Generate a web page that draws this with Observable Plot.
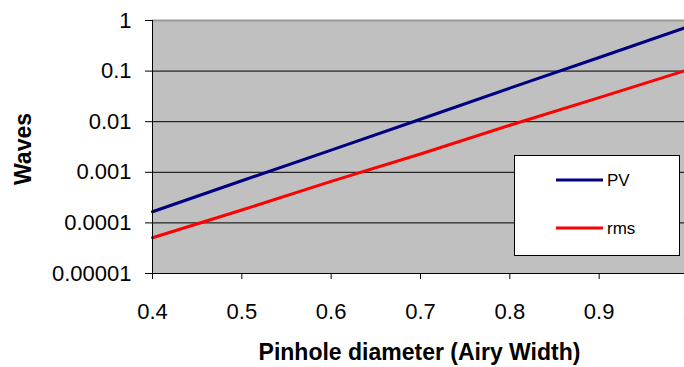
<!DOCTYPE html>
<html>
<head>
<meta charset="utf-8">
<script src="https://cdn.jsdelivr.net/npm/d3@7"></script>
<script src="https://cdn.jsdelivr.net/npm/@observablehq/plot@0.6"></script>
<style>
  html, body { margin: 0; padding: 0; background: #fff; overflow: hidden; }
  svg, svg text { font-family: "Liberation Sans", Arial, sans-serif !important; }
</style>
</head>
<body>
<div id="chart"></div>
<script>
// Data
const diameters = [0.4, 0.5, 0.6, 0.7, 0.8, 0.9, 1.0];
const pvValues  = [1.66e-4, 6.8e-4, 2.75e-3, 1.12e-2, 4.6e-2, 0.186, 0.76];
const rmsValues = [5.1e-5, 1.8e-4, 6.6e-4, 2.3e-3, 8.5e-3, 3.0e-2, 0.107];
const seriesNames = ["PV", "rms"];
const seriesColors = ["#000080", "#ff0000"];
const xTicks = [0.4, 0.5, 0.6, 0.7, 0.8, 0.9, 1.0];
const xTickLabels = ["0.4", "0.5", "0.6", "0.7", "0.8", "0.9", "1"];
const yTicks = [1e-5, 1e-4, 1e-3, 1e-2, 1e-1, 1];
const yTickLabels = ["0.00001", "0.0001", "0.001", "0.01", "0.1", "1"];
const xTitle = "Pinhole diameter (Airy Width)";
const yTitle = "Waves";

const rows = [];
diameters.forEach((d, i) => {
  rows.push({x: d, y: pvValues[i], s: seriesNames[0]});
  rows.push({x: d, y: rmsValues[i], s: seriesNames[1]});
});

const W = 684, H = 367;
const chart = Plot.plot({
  width: W,
  height: H,
  marginLeft: 152,
  marginTop: 20,
  marginBottom: 94,
  marginRight: 0,
  style: "font-family: 'Liberation Sans', Arial, sans-serif; background: #fff; color: #000;",
  x: {domain: [0.4, 1.0], range: [152, 688]},
  y: {type: "log", domain: [1e-5, 1]},
  color: {domain: seriesNames, range: seriesColors},
  marks: [
    Plot.frame({fill: "#c0c0c0", stroke: null}),
    Plot.ruleY(yTicks.slice(1, -1), {stroke: "#000", strokeWidth: 1}),
    Plot.ruleY([1], {stroke: "#999", strokeWidth: 2}),
    Plot.line(rows, {x: "x", y: "y", z: "s", stroke: "s", strokeWidth: 3}),
    Plot.ruleX([0.4], {stroke: "#000", strokeWidth: 1}),
    Plot.ruleY([1e-5], {stroke: "#000", strokeWidth: 1}),
    Plot.axisY({
      ticks: yTicks,
      tickFormat: d => yTickLabels[yTicks.indexOf(d)],
      tickSize: 7, tickPadding: 14, fontSize: 22, label: null, stroke: "#000"
    }),
    Plot.axisX({
      ticks: xTicks,
      tickFormat: d => xTickLabels[xTicks.indexOf(d)],
      tickSize: 6, tickPadding: 24, fontSize: 22, label: null, stroke: "#000"
    }),
    Plot.text([xTitle], {frameAnchor: "bottom", textAnchor: "middle", lineAnchor: "bottom", dx: 1, dy: 86, fontWeight: "bold", fontSize: 23, fill: "#000"}),
    Plot.text([yTitle], {frameAnchor: "left", textAnchor: "middle", lineAnchor: "middle", rotate: -90, dx: -129, dy: 2, fontWeight: "bold", fontSize: 23, fill: "#000"})
  ]
});
document.getElementById("chart").appendChild(chart);

// Legend (boxed, inside plot area)
const svg = d3.select(chart);
const lg = svg.append("g");
lg.append("rect").attr("x", 514.5).attr("y", 155.5).attr("width", 165).attr("height", 100)
  .attr("fill", "#fff").attr("stroke", "#000").attr("stroke-width", 1);
seriesNames.forEach((name, i) => {
  const yy = 180 + i * 48;
  lg.append("line").attr("x1", 556).attr("x2", 603).attr("y1", yy).attr("y2", yy)
    .attr("stroke", seriesColors[i]).attr("stroke-width", 3);
  lg.append("text").attr("x", 607).attr("y", yy).attr("dy", "0.35em")
    .attr("text-anchor", "start")
    .attr("font-size", 17).attr("fill", "#000").text(name);
});
</script>
</body>
</html>
